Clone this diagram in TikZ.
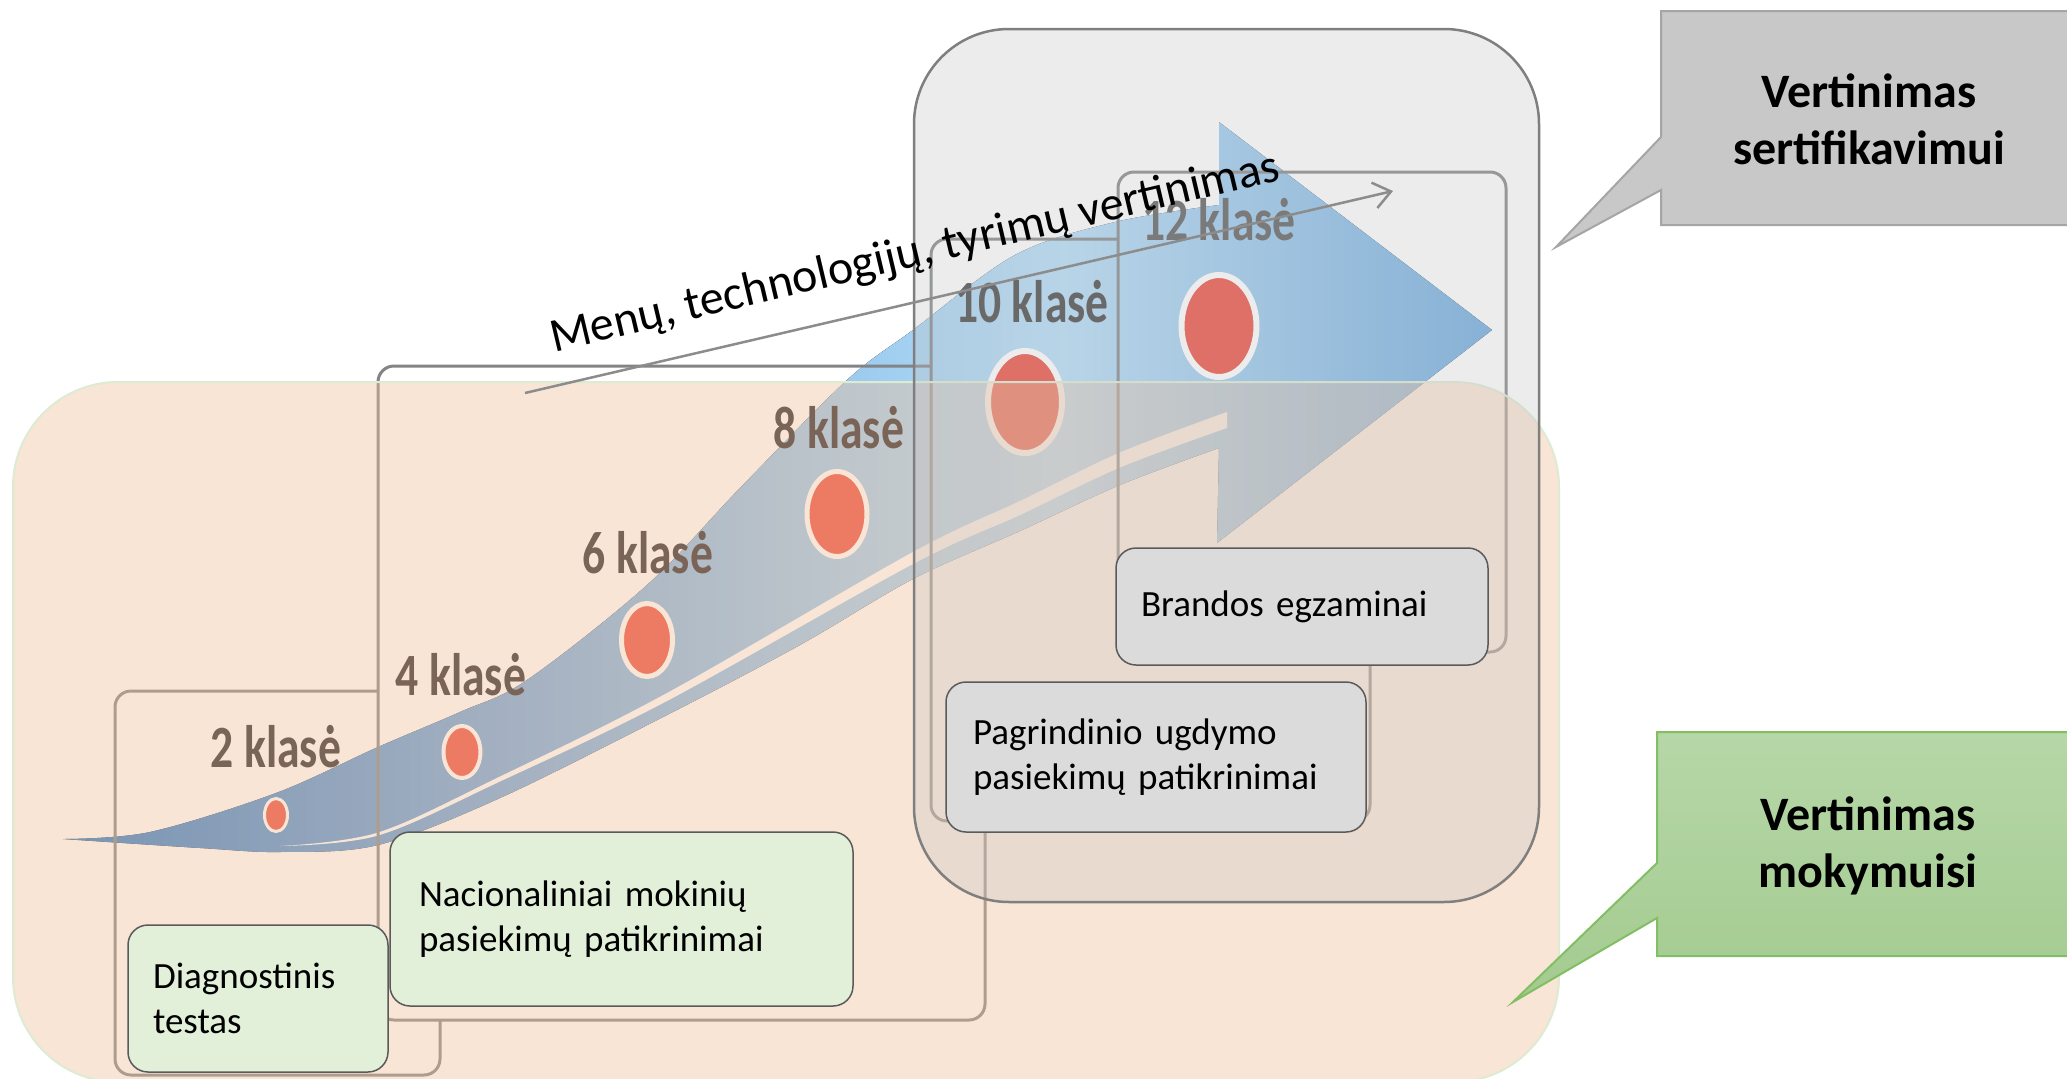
\documentclass[tikz,border=0pt]{standalone}
\usepackage{fontspec}
\setmainfont{Carlito}
\newfontfamily\gradefont[FakeStretch=0.76]{Carlito}
\usetikzlibrary{arrows.meta}
\definecolor{aL}{RGB}{40,120,200}
\definecolor{aA}{RGB}{110,165,220}
\definecolor{aB}{RGB}{165,210,242}
\definecolor{aC}{RGB}{180,220,248}
\definecolor{aR}{RGB}{110,170,222}
\definecolor{dotred}{RGB}{235,77,65}
\definecolor{gboxc}{RGB}{130,132,134}
\definecolor{peachP}{RGB}{242,192,152}
\definecolor{peachB}{RGB}{221,235,211}
\definecolor{grayG}{RGB}{195,195,195}
\definecolor{gborder}{RGB}{127,127,127}
\definecolor{labbrown}{RGB}{122,100,87}
\definecolor{labgray}{RGB}{105,105,105}
\definecolor{labgrayl}{RGB}{122,122,122}
\definecolor{greenbox}{RGB}{226,239,217}
\definecolor{tborder}{RGB}{90,90,90}
\definecolor{graybox}{RGB}{219,219,219}
\definecolor{calgray}{RGB}{200,200,200}
\definecolor{calgrayb}{RGB}{165,165,165}
\definecolor{calgreenT}{RGB}{182,215,168}
\definecolor{calgreenB}{RGB}{163,203,143}
\definecolor{calgreenb}{RGB}{130,190,100}
\definecolor{diagc}{RGB}{140,140,140}
\pgfdeclarehorizontalshading{arrowshade}{100bp}{color(0bp)=(aL); color(25bp)=(aL); color(40bp)=(aA); color(55bp)=(aB); color(60bp)=(aC); color(75bp)=(aR); color(100bp)=(aR)}
\begin{document}
\begin{tikzpicture}[x=1pt,y=-1pt,
  gbox/.style={draw=gboxc, line width=3pt, rounded corners=16pt},
  reddot/.style={draw=white, fill=dotred},
  grade/.style={font=\gradefont\bfseries\fontsize{60}{62}\selectfont, anchor=base, inner sep=0pt},
  tbox/.style={draw=tborder, line width=1.5pt, rounded corners=20pt, align=left,
    font=\fontsize{37}{45}\selectfont, inner ysep=0pt},
  callout/.style={font=\bfseries\fontsize{48}{57}\selectfont, align=center},
  diag/.style={draw=diagc, line width=2.5pt, -{Straight Barb[length=17pt,width=26pt]}}
]
\useasboundingbox (0,0) rectangle (2067,1079);
\fill[white] (0,0) rectangle (2067,1079);

% ---- sweeping arrow ----
\fill[shading=arrowshade]
  plot[smooth,tension=0.55] coordinates {(63,839) (150,832) (276,793) (378,747) (460,712) (527,680) (647,585) (740,488) (847,380) (913,330) (1015,255) (1115,222) (1219,205)}
  -- (1219,122) -- (1492,330) -- (1217,543) -- (1219,448)
  -- plot[smooth,tension=0.55] coordinates {(1219,448) (1120,485) (1020,531) (913,579) (800,645) (667,715) (500,798) (378,845) (280,852) (200,848) (63,839)}
  -- cycle;
% light stripe
\fill[white]
  plot[smooth,tension=0.55] coordinates {(280,846) (378,832.5) (500,776.5) (667,693) (913,552) (1020,501) (1120,452.5) (1227,412)}
  -- (1227,428)
  -- plot[smooth,tension=0.55] coordinates {(1227,428) (1120,467.5) (1020,515) (913,564) (667,701) (500,781.5) (378,835.5) (280,846)}
  -- cycle;

% ---- grade bracket boxes ----
\draw[gbox] (378,691) -- (115,691) -- (115,1075) -- (440,1075) -- (440,1020);
\draw[gbox] (931,366) -- (378,366) -- (378,1020) -- (985,1020) -- (985,821);
\draw[gbox] (1118,239) -- (931,239) -- (931,821) -- (1370,821) -- (1370,652);
\draw[gbox] (1118,172) rectangle (1506,652);

% ---- dots ----
\draw[reddot, line width=3pt] (276,815) ellipse [x radius=11.5pt, y radius=16.5pt];
\draw[reddot, line width=4pt] (462,752) ellipse [x radius=18.5pt, y radius=26pt];
\draw[reddot, line width=5pt] (647,640) ellipse [x radius=25.5pt, y radius=36.5pt];
\draw[reddot, line width=5pt] (837,514) ellipse [x radius=30pt, y radius=42.5pt];
\draw[reddot, line width=6pt] (1025,402) ellipse [x radius=37pt, y radius=51pt];
\draw[reddot, line width=6pt] (1219,326) ellipse [x radius=37.5pt, y radius=51pt];

% ---- overlays ----
\filldraw[fill=peachP, fill opacity=0.4, draw=peachB, line width=2pt, rounded corners=105pt]
  (13,382) rectangle (1559,1082);
\filldraw[fill=grayG, fill opacity=0.3, draw=gborder, line width=2.5pt, rounded corners=95pt]
  (914,29) rectangle (1539,902);

% ---- grade labels ----
\node[grade, text=labbrown] (g2) at (276,767) {2 klasė};
\node[grade, text=labbrown] (g4) at (461,695) {4 klasė};
\node[grade, text=labbrown] (g6) at (648,573) {6 klasė};
\node[grade, text=labbrown] (g8) at (839,448) {8 klasė};
\node[grade, text=labgray] (g10) at (1032,322) {10 klasė};
\node[grade, text=labgrayl] (g12) at (1219,240) {12 klasė};

% ---- text boxes ----
\node[tbox, fill=greenbox, inner xsep=25pt, text width=210pt, minimum height=147pt] (diag) at (258,998.5) {Diagnostinis\\testas};
\node[tbox, fill=greenbox, inner xsep=29pt, text width=405pt, minimum height=174pt] (nac) at (621.5,919) {Nacionaliniai mokinių\\pasiekimų patikrinimai};
\node[tbox, fill=graybox, inner xsep=25pt, text width=322pt, minimum height=117pt] (bra) at (1302,606.5) {Brandos egzaminai};
\node[tbox, fill=graybox, inner xsep=27pt, text width=366pt, minimum height=150pt] (pag) at (1156,757) {Pagrindinio ugdymo\\pasiekimų patikrinimai};

% ---- diagonal arrow with label ----
\coordinate (dA) at (525,393);
\coordinate (dB) at (1393,191);
\draw[diag] (dA) -- (dB);
\node[font=\fontsize{48}{56}\selectfont, rotate=13.3, anchor=base, inner sep=0pt] (menu) at (918,266) {Menų, technologijų, tyrimų vertinimas};

% ---- callouts ----
\filldraw[fill=calgray, draw=calgrayb, line width=2pt]
  (1661,11) -- (2080,11) -- (2080,225) -- (1661,225) -- (1661,190) -- (1556,247) -- (1661,137) -- cycle;
\node[callout] (sert) at (1869,119) {Vertinimas\\sertifikavimui};
\path[top color=calgreenT, bottom color=calgreenB, draw=calgreenb, line width=2pt]
  (1657,732) -- (2080,732) -- (2080,956) -- (1657,956) -- (1657,918) -- (1513,1002) -- (1657,863) -- cycle;
\node[callout] (mok) at (1868,846) {Vertinimas\\mokymuisi};
\end{tikzpicture}
\end{document}
